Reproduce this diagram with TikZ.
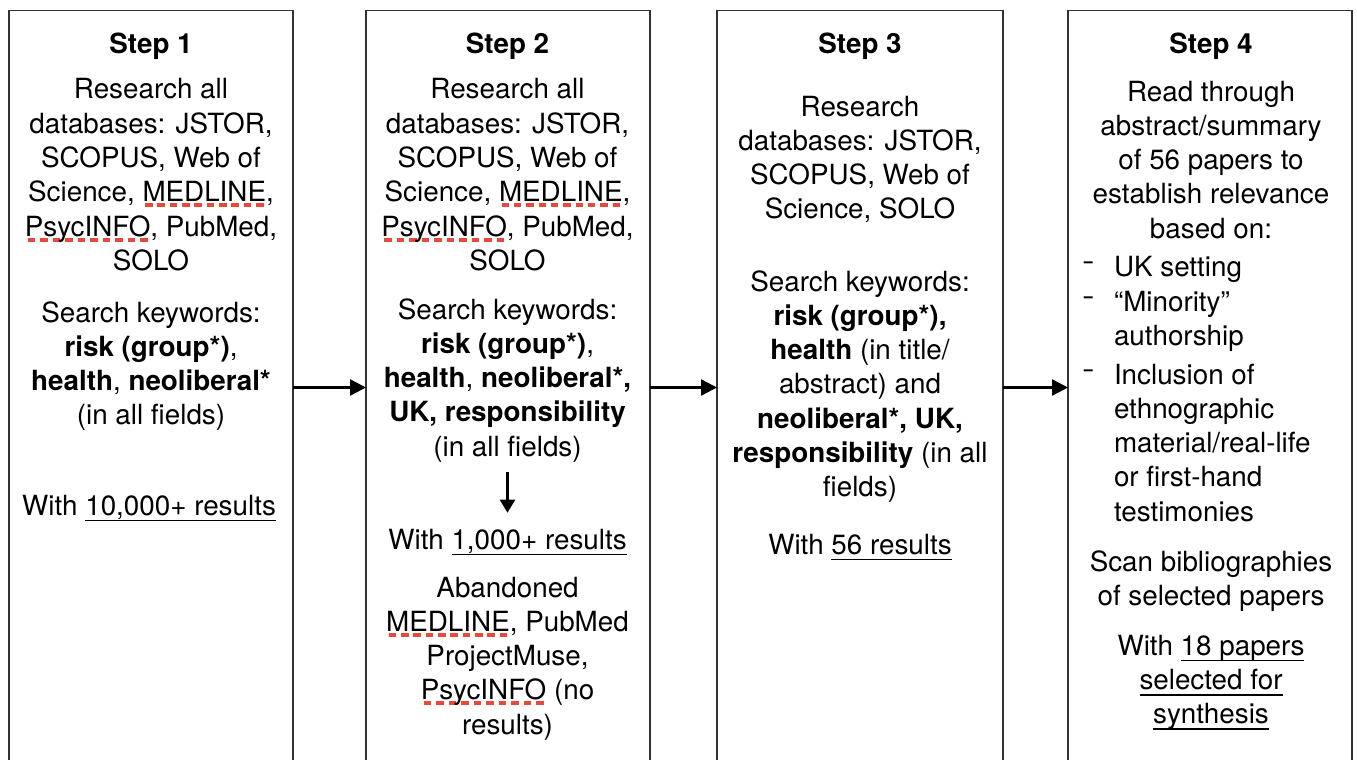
\documentclass[tikz,border=0pt]{standalone}
\usepackage{fontspec}
\setmainfont{TeX Gyre Heros}
\usetikzlibrary{arrows.meta}
\definecolor{sqred}{RGB}{234,72,58}
\definecolor{frame}{RGB}{50,50,50}
\newcommand\lns[1]{\vtop{\baselineskip=34.3pt\lineskiplimit=-1000pt\halign{\hfil##\hfil\cr#1\crcr}}}
\newcommand\lnsl[1]{\vtop{\baselineskip=34.3pt\lineskiplimit=-1000pt\halign{##\hfil\cr#1\crcr}}}
\newcommand\ul[1]{\setbox0\hbox{#1}\rlap{\vrule height -4.6pt depth 6.2pt width \wd0}\box0\relax}
\newcommand\sq[1]{\setbox0\hbox{#1}\rlap{\hbox to \wd0{\color{sqred}\xleaders\hbox to 12pt{\hss\vrule height -1.5pt depth 5.5pt width 7.5pt\hss}\hfil}}\box0\relax}
\newcommand\bdash{\raisebox{5.5pt}{\scalebox{1.35}[1]{-}}}
\begin{document}
\begin{tikzpicture}[x=1pt,y=-1pt,
  font=\fontsize{27.8}{34.3}\selectfont,
  txt/.style={inner sep=0pt, outer sep=0pt, anchor=base},
  txtl/.style={inner sep=0pt, outer sep=0pt, anchor=base west},
  stepbox/.style={draw=frame, line width=1.3pt, minimum height=900pt, anchor=north west, inner sep=0pt, outer sep=0pt},
  arr/.style={line width=2.4pt, -{Triangle[length=16pt,width=16pt]}},
  arrd/.style={line width=2.2pt, -{Triangle[length=13pt,width=15pt]}}]
\clip (0,0) rectangle (1357,760);
\fill[white] (0,0) rectangle (1357,760);
% boxes
\node[stepbox, minimum width=284pt] (b1) at (9,10.5) {};
\node[stepbox, minimum width=284pt] (b2) at (366,10.5) {};
\node[stepbox, minimum width=286pt] (b3) at (717,10.5) {};
\node[stepbox, minimum width=284pt] (b4) at (1068,10.5) {};
% arrows between boxes
\coordinate (ay) at (0,387.5);
\draw[arr] (b1.east |- ay) -- (b2.west |- ay);
\draw[arr] (b2.east |- ay) -- (b3.west |- ay);
\draw[arr] (b3.east |- ay) -- (b4.west |- ay);
% ---------- Step 1
\node[txt] (h1) at (151,53) {\textbf{Step 1}};
\node[txt] (a1) at (151,99) {\lns{Research all\cr
 databases: JSTOR,\cr
 SCOPUS, Web of\cr
 Science, \sq{MEDLINE},\cr
 \sq{PsycINFO}, PubMed,\cr
 SOLO}};
\node[txt] (kw1) at (151,322) {\lns{Search keywords:\cr
 \textbf{risk (group*)},\cr
 \textbf{health}, \textbf{neoliberal*}\cr
 (in all fields)}};
\node[txt] (r1) at (149,515) {With \ul{10,000+ results}};
% ---------- Step 2
\node[txt] (h2) at (507.5,53) {\textbf{Step 2}};
\node[txt] (a2) at (507.5,99) {\lns{Research all\cr
 databases: JSTOR,\cr
 SCOPUS, Web of\cr
 Science, \sq{MEDLINE},\cr
 \sq{PsycINFO}, PubMed,\cr
 SOLO}};
\node[txt] (kw2) at (507.5,319) {\lns{Search keywords:\cr
 \textbf{risk (group*)},\cr
 \textbf{health}, \textbf{neoliberal*,}\cr
 \textbf{UK, responsibility}\cr
 (in all fields)}};
\node[txt] (r2) at (507.5,549) {With \ul{1,000+ results}};
\draw[arrd] ([yshift=-10pt]kw2.south) -- ([yshift=16pt]r2.north);
\node[txt] (ab2) at (507.5,597) {\lns{Abandoned\cr
 \sq{MEDLINE}, PubMed\cr
 ProjectMuse,\cr
 \sq{PsycINFO} (no\cr
 results)}};
% ---------- Step 3
\node[txt] (h3) at (860,53) {\textbf{Step 3}};
\node[txt] (a3) at (860,116) {\lns{Research\cr
 databases: JSTOR,\cr
 SCOPUS, Web of\cr
 Science, SOLO}};
\node[txt] (kw3) at (860,291) {\lns{Search keywords:\cr
 \textbf{risk (group*),}\cr
 \textbf{health} (in title/\cr
 abstract) and\cr
 \textbf{neoliberal*, UK,}\cr
 \textbf{responsibility} (in all\cr
 fields)}};
\node[txt] (r3) at (860,554) {With \ul{56 results}};
% ---------- Step 4
\node[txt] (h4) at (1211,53) {\textbf{Step 4}};
\node[txt] (a4) at (1211,101) {\lns{Read through\cr
 abstract/summary\cr
 of 56 papers to\cr
 establish relevance\cr
 based on:}};
\node[txtl] (d1) at (1082,276) {\bdash};
\node[txtl] (d2) at (1082,311) {\bdash};
\node[txtl] (d3) at (1082,384) {\bdash};
\node[txtl] (i1) at (1114,276) {UK setting};
\node[txtl] (i2) at (1114,311) {\lnsl{“Minority”\cr authorship}};
\node[txtl] (i3) at (1114,384) {\lnsl{Inclusion of\cr
 ethnographic\cr
 material/real-life\cr
 or first-hand\cr
 testimonies}};
\node[txt] (s4) at (1211,571) {\lns{Scan bibliographies\cr of selected papers}};
\node[txt] (r4) at (1211,655) {\lns{With \ul{18 papers}\cr \ul{selected for}\cr \ul{synthesis}}};
\end{tikzpicture}
\end{document}
